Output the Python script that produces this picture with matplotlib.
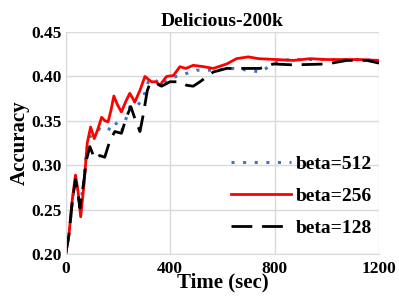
import matplotlib
matplotlib.use("Agg")
import matplotlib.pyplot as plt

# beta=256 (red, solid)
t_256 = [0, 12, 25, 37, 47, 57, 70, 82, 95, 109, 122, 137, 150, 162, 173, 184, 198, 213, 230,
         245, 255, 264, 285, 303, 315, 328, 345, 360, 386, 412, 437, 460, 488, 527, 565, 616,
         654, 699, 738, 808, 872, 936, 1000, 1064, 1128, 1200]
acc_256 = [0.201, 0.222, 0.262, 0.289, 0.270, 0.242, 0.280, 0.325, 0.343, 0.330, 0.340, 0.354,
           0.350, 0.349, 0.362, 0.378, 0.368, 0.360, 0.372, 0.381, 0.376, 0.371, 0.385, 0.400,
           0.397, 0.394, 0.394, 0.390, 0.400, 0.401, 0.411, 0.409, 0.4125, 0.411, 0.409, 0.414,
           0.420, 0.422, 0.420, 0.419, 0.418, 0.420, 0.419, 0.419, 0.419, 0.418]

# beta=512 (blue, dotted)
t_512 = [0, 12, 25, 37, 45, 54, 68, 80, 92, 110, 130, 147, 162, 175, 188, 200, 213, 230, 245,
         271, 296, 316, 335, 350, 367, 399, 437, 501, 565, 641, 700, 744, 767, 820, 872, 1000,
         1100, 1200]
acc_512 = [0.201, 0.222, 0.260, 0.284, 0.272, 0.252, 0.280, 0.318, 0.332, 0.336, 0.341, 0.338,
           0.339, 0.345, 0.349, 0.344, 0.338, 0.352, 0.366, 0.366, 0.375, 0.394, 0.398, 0.394,
           0.390, 0.398, 0.401, 0.407, 0.407, 0.409, 0.407, 0.405, 0.409, 0.418, 0.419, 0.419,
           0.419, 0.418]

# beta=128 (black, dashed)
t_128 = [0, 12, 25, 37, 45, 54, 68, 79, 92, 111, 130, 149, 169, 188, 213, 232, 249, 264, 284,
         296, 312, 322, 348, 367, 399, 437, 463, 488, 514, 565, 616, 693, 744, 795, 872, 1000,
         1076, 1153, 1200]
acc_128 = [0.201, 0.222, 0.260, 0.284, 0.272, 0.252, 0.280, 0.306, 0.321, 0.307, 0.311, 0.309,
           0.328, 0.338, 0.336, 0.354, 0.366, 0.353, 0.338, 0.356, 0.384, 0.392, 0.392, 0.389,
           0.394, 0.394, 0.390, 0.389, 0.394, 0.405, 0.409, 0.409, 0.409, 0.414, 0.413, 0.414,
           0.418, 0.418, 0.415]

x_ticks = [0, 400, 800, 1200]
y_ticks = [0.20, 0.25, 0.30, 0.35, 0.40, 0.45]

plt.rcParams['font.family'] = ['Liberation Serif', 'DejaVu Serif']
plt.rcParams['font.weight'] = 'bold'

fig = plt.figure(figsize=(3.99, 2.99), dpi=100)
ax = fig.add_axes([0.165, 0.150, 0.785, 0.743])

ax.plot(t_512, acc_512, color='#4472c4', linestyle=(0, (1, 2.8)), linewidth=2.2, label='beta=512')
ax.plot(t_256, acc_256, color='#ff0000', linestyle='-', linewidth=2.0, label='beta=256')
ax.plot(t_128, acc_128, color='black', linestyle=(0, (7.5, 3.5)), linewidth=2.0, label='beta=128')

ax.set_xlim(0, 1200)
ax.set_ylim(0.20, 0.45)
ax.set_xticks(x_ticks)
ax.set_yticks(y_ticks)
ax.set_yticklabels([f'{v:.2f}' for v in y_ticks])
ax.tick_params(length=0, labelsize=12.5, pad=3)
ax.tick_params(axis='x', pad=5)
ax.grid(True, color='#d9d9d9', linewidth=1)
ax.set_axisbelow(True)
for side in ['top', 'right']:
    ax.spines[side].set_visible(False)
ax.spines['bottom'].set_color('#d9d9d9')
ax.spines['left'].set_color('#d9d9d9')

ax.set_title('Delicious-200k', fontsize=14, fontweight='bold', pad=4)
ax.set_xlabel('Time (sec)', fontsize=15, fontweight='bold', labelpad=-3)
ax.set_ylabel('Accuracy', fontsize=15, fontweight='bold', labelpad=1)

leg = ax.legend(loc='lower right', bbox_to_anchor=(0.978, 0.077), frameon=False, fontsize=14,
                handlelength=3.1, labelspacing=0.75, handletextpad=0.25,
                borderpad=0, borderaxespad=0)
for txt in leg.get_texts():
    txt.set_fontweight('bold')

fig.savefig('out.png', dpi=100)
